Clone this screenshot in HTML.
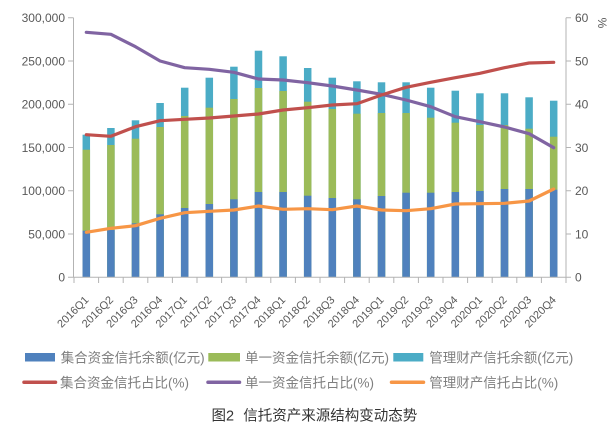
<!DOCTYPE html>
<html><head><meta charset="utf-8"><style>
html,body{margin:0;padding:0;background:#fff;}
svg{display:block;}
.t{font-family:"Liberation Sans","Noto Sans CJK SC",sans-serif;font-size:12px;fill:#595959;}
.tx{font-family:"Liberation Sans","Noto Sans CJK SC",sans-serif;font-size:11px;fill:#595959;}
.lg{font-family:"Liberation Sans","Noto Sans CJK SC",sans-serif;font-size:13.5px;fill:#7f7f7f;}
.ti{font-family:"Liberation Sans","Noto Sans CJK SC",sans-serif;font-size:14.5px;fill:#333;}
</style></head><body>
<svg width="614" height="427" viewBox="0 0 614 427" xmlns="http://www.w3.org/2000/svg">
<rect width="614" height="427" fill="#fff"/>
<g fill="#4bacc6">
<rect x="82.55" y="134.7" width="7.5" height="142.6"/>
<rect x="107.15" y="128" width="7.5" height="149.3"/>
<rect x="131.75" y="120.3" width="7.5" height="157"/>
<rect x="156.35" y="103" width="7.5" height="174.3"/>
<rect x="180.95" y="87.7" width="7.5" height="189.6"/>
<rect x="205.55" y="77.7" width="7.5" height="199.6"/>
<rect x="230.15" y="66.7" width="7.5" height="210.6"/>
<rect x="254.75" y="50.7" width="7.5" height="226.6"/>
<rect x="279.35" y="56.3" width="7.5" height="221"/>
<rect x="303.95" y="68" width="7.5" height="209.3"/>
<rect x="328.55" y="77.7" width="7.5" height="199.6"/>
<rect x="353.15" y="81.3" width="7.5" height="196"/>
<rect x="377.75" y="82.3" width="7.5" height="195"/>
<rect x="402.35" y="82.3" width="7.5" height="195"/>
<rect x="426.95" y="87.7" width="7.5" height="189.6"/>
<rect x="451.55" y="90.7" width="7.5" height="186.6"/>
<rect x="476.15" y="93.3" width="7.5" height="184"/>
<rect x="500.75" y="93.3" width="7.5" height="184"/>
<rect x="525.35" y="97.3" width="7.5" height="180"/>
<rect x="549.95" y="100.7" width="7.5" height="176.6"/>
</g>
<g fill="#9bbb59">
<rect x="82.55" y="149.7" width="7.5" height="127.6"/>
<rect x="107.15" y="145" width="7.5" height="132.3"/>
<rect x="131.75" y="138.7" width="7.5" height="138.6"/>
<rect x="156.35" y="127" width="7.5" height="150.3"/>
<rect x="180.95" y="116" width="7.5" height="161.3"/>
<rect x="205.55" y="107.7" width="7.5" height="169.6"/>
<rect x="230.15" y="99" width="7.5" height="178.3"/>
<rect x="254.75" y="88" width="7.5" height="189.3"/>
<rect x="279.35" y="91" width="7.5" height="186.3"/>
<rect x="303.95" y="101.7" width="7.5" height="175.6"/>
<rect x="328.55" y="109" width="7.5" height="168.3"/>
<rect x="353.15" y="113.7" width="7.5" height="163.6"/>
<rect x="377.75" y="113" width="7.5" height="164.3"/>
<rect x="402.35" y="113" width="7.5" height="164.3"/>
<rect x="426.95" y="117.7" width="7.5" height="159.6"/>
<rect x="451.55" y="122.7" width="7.5" height="154.6"/>
<rect x="476.15" y="125" width="7.5" height="152.3"/>
<rect x="500.75" y="125" width="7.5" height="152.3"/>
<rect x="525.35" y="128.7" width="7.5" height="148.6"/>
<rect x="549.95" y="136.7" width="7.5" height="140.6"/>
</g>
<g fill="#4f81bd">
<rect x="82.55" y="230.7" width="7.5" height="46.6"/>
<rect x="107.15" y="230" width="7.5" height="47.3"/>
<rect x="131.75" y="223.3" width="7.5" height="54"/>
<rect x="156.35" y="214.3" width="7.5" height="63"/>
<rect x="180.95" y="208" width="7.5" height="69.3"/>
<rect x="205.55" y="204" width="7.5" height="73.3"/>
<rect x="230.15" y="199.3" width="7.5" height="78"/>
<rect x="254.75" y="192" width="7.5" height="85.3"/>
<rect x="279.35" y="192" width="7.5" height="85.3"/>
<rect x="303.95" y="195.7" width="7.5" height="81.6"/>
<rect x="328.55" y="198" width="7.5" height="79.3"/>
<rect x="353.15" y="199.3" width="7.5" height="78"/>
<rect x="377.75" y="196" width="7.5" height="81.3"/>
<rect x="402.35" y="192.7" width="7.5" height="84.6"/>
<rect x="426.95" y="192.7" width="7.5" height="84.6"/>
<rect x="451.55" y="192" width="7.5" height="85.3"/>
<rect x="476.15" y="191" width="7.5" height="86.3"/>
<rect x="500.75" y="189" width="7.5" height="88.3"/>
<rect x="525.35" y="189" width="7.5" height="88.3"/>
<rect x="549.95" y="189.7" width="7.5" height="87.6"/>
</g>
<g stroke="#b3b3b3" stroke-width="1" fill="none">
<line x1="73.5" y1="17.7" x2="73.5" y2="277.3"/>
<line x1="566" y1="17.7" x2="566" y2="277.3"/>
<line x1="73.5" y1="277.3" x2="566" y2="277.3"/>
<path d="M68 17.7H73.5M68 61H73.5M68 104.2H73.5M68 147.5H73.5M68 190.8H73.5M68 234H73.5M68 277.3H73.5"/>
<path d="M566 17.7H571M566 61H571M566 104.2H571M566 147.5H571M566 190.8H571M566 234H571M566 277.3H571"/>
<path d="M74 277.3V283M98.6 277.3V283M123.2 277.3V283M147.8 277.3V283M172.4 277.3V283M197 277.3V283M221.6 277.3V283M246.2 277.3V283M270.8 277.3V283M295.4 277.3V283M320 277.3V283M344.6 277.3V283M369.2 277.3V283M393.8 277.3V283M418.4 277.3V283M443 277.3V283M467.6 277.3V283M492.2 277.3V283M516.8 277.3V283M541.4 277.3V283M566 277.3V283"/>
</g>
<g fill="none" stroke-width="3.2" stroke-linejoin="round" stroke-linecap="round">
<polyline stroke="#8064a2" points="86.3,32.3 110.9,34.3 135.5,46.7 160.1,61 184.7,67.7 209.3,69.3 233.9,72.3 258.5,79 283.1,80 307.7,82.7 332.3,86 356.9,90 381.5,94.3 406.1,100 430.7,106.7 455.3,116.7 479.9,121.7 504.5,127 529.1,133.7 553.7,147.7"/>
<polyline stroke="#c0504d" points="86.3,134.7 110.9,136.3 135.5,126.7 160.1,120.7 184.7,119.3 209.3,118 233.9,116 258.5,114 283.1,110 307.7,107.7 332.3,105 356.9,103.7 381.5,95 406.1,87.3 430.7,82.3 455.3,77.7 479.9,73.3 504.5,67.7 529.1,63 553.7,62.3"/>
<polyline stroke="#f79646" points="86.3,232.3 110.9,228.3 135.5,225.7 160.1,218.3 184.7,212.7 209.3,211.3 233.9,210 258.5,206 283.1,209.3 307.7,208.7 332.3,209.7 356.9,206 381.5,210 406.1,210.7 430.7,208.7 455.3,204 479.9,203.7 504.5,203.3 529.1,201 553.7,189"/>
</g>
<g class="t" text-anchor="end">
<text x="65" y="22">300,000</text>
<text x="65" y="65.3">250,000</text>
<text x="65" y="108.5">200,000</text>
<text x="65" y="151.8">150,000</text>
<text x="65" y="195.1">100,000</text>
<text x="65" y="238.3">50,000</text>
<text x="65" y="281.6">0</text>
</g>
<g class="t">
<text x="575" y="22">60</text>
<text x="575" y="65.3">50</text>
<text x="575" y="108.5">40</text>
<text x="575" y="151.8">30</text>
<text x="575" y="195.1">20</text>
<text x="575" y="238.3">10</text>
<text x="575" y="281.6">0</text>
<text x="0" y="0" transform="translate(598,23) rotate(90)" text-anchor="middle">%</text>
</g>
<g class="tx" text-anchor="end">
<text transform="translate(89.3,300.5) rotate(-45)">2016Q1</text>
<text transform="translate(113.9,300.5) rotate(-45)">2016Q2</text>
<text transform="translate(138.5,300.5) rotate(-45)">2016Q3</text>
<text transform="translate(163.1,300.5) rotate(-45)">2016Q4</text>
<text transform="translate(187.7,300.5) rotate(-45)">2017Q1</text>
<text transform="translate(212.3,300.5) rotate(-45)">2017Q2</text>
<text transform="translate(236.9,300.5) rotate(-45)">2017Q3</text>
<text transform="translate(261.5,300.5) rotate(-45)">2017Q4</text>
<text transform="translate(286.1,300.5) rotate(-45)">2018Q1</text>
<text transform="translate(310.7,300.5) rotate(-45)">2018Q2</text>
<text transform="translate(335.3,300.5) rotate(-45)">2018Q3</text>
<text transform="translate(359.9,300.5) rotate(-45)">2018Q4</text>
<text transform="translate(384.5,300.5) rotate(-45)">2019Q1</text>
<text transform="translate(409.1,300.5) rotate(-45)">2019Q2</text>
<text transform="translate(433.7,300.5) rotate(-45)">2019Q3</text>
<text transform="translate(458.3,300.5) rotate(-45)">2019Q4</text>
<text transform="translate(482.9,300.5) rotate(-45)">2020Q1</text>
<text transform="translate(507.5,300.5) rotate(-45)">2020Q2</text>
<text transform="translate(532.1,300.5) rotate(-45)">2020Q3</text>
<text transform="translate(556.7,300.5) rotate(-45)">2020Q4</text>
</g>
<rect x="25" y="353" width="30" height="8.5" fill="#4f81bd"/>
<rect x="208.3" y="353" width="31.7" height="8.5" fill="#9bbb59"/>
<rect x="393.3" y="353" width="30" height="8.5" fill="#4bacc6"/>
<g stroke-width="3.5" stroke-linecap="round">
<line x1="24" y1="382.3" x2="55.5" y2="382.3" stroke="#c0504d"/>
<line x1="208" y1="382.3" x2="239.5" y2="382.3" stroke="#8064a2"/>
<line x1="391.5" y1="382.3" x2="423.5" y2="382.3" stroke="#f79646"/>
</g>
<g class="lg">
<text x="60.7" y="362.5">集合资金信托余额(亿元)</text>
<text x="245" y="362.5">单一资金信托余额(亿元)</text>
<text x="429.3" y="362.5">管理财产信托余额(亿元)</text>
<text x="60" y="387.5">集合资金信托占比(%)</text>
<text x="245" y="387.5">单一资金信托占比(%)</text>
<text x="429.3" y="387.5">管理财产信托占比(%)</text>
</g>
<text class="ti" x="211.5" y="420.5">图2<tspan x="243.3">信托资产来源结构变动态势</tspan></text>
</svg>
</body></html>
